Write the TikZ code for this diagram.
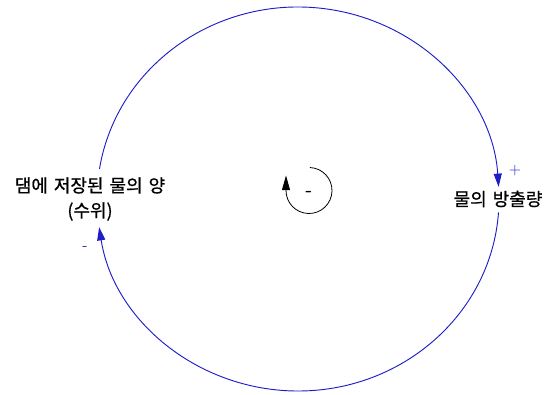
\documentclass[tikz,border=0pt]{standalone}
\usepackage{fontspec}
\newfontfamily\kofont[FakeBold=0.7]{Noto Sans CJK KR}
\newcommand\kowide{\spaceskip=0.33em\relax}
\usetikzlibrary{arrows.meta, calc}
\definecolor{loopcol}{RGB}{30, 30, 200}

\begin{document}
\begin{tikzpicture}[x=0.75pt, y=0.75pt,
      var/.style={align=center, font=\kofont\fontsize{13.5}{18.75}\selectfont\kowide, inner sep=1pt},
      link/.style={draw=loopcol, line width=0.7pt, -{Triangle[length=10pt, width=6pt]}},
      sign/.style={font=\sffamily\large, text=loopcol, inner sep=0pt},
      loopmark/.style={draw=black, line width=0.6pt, -{Triangle[length=11pt, width=6pt]}}]

      \useasboundingbox (0,0) rectangle (552,394);

      % Variables
      \node[var] (dam) at (90, 195) {댐에 저장된 물의 양\\(수위)};
      \node[var] (outflow) at (498, 195) {물의 방출량};

      % Points du cercle
      \coordinate (c) at (298, 195);
      \coordinate (damtop) at ($(c)+(171:201 and 192)$);
      \coordinate (outbot) at ($(c)+(-4:201 and 192)$);

      % Liens causaux
      \draw[link] (damtop) arc[start angle=171, end angle=3.6, x radius=201, y radius=192];
      \draw[link] (outbot) arc[start angle=-4, end angle=-171.6, x radius=201, y radius=192];

      \node[sign] (plus) at (515, 223) {+};
      \node[sign] (minus) at (85, 146) {-};

      % Boucle
      \coordinate (loopc) at (309, 203.5);
      \draw[loopmark] ($(loopc)+(88:23)$) arc[start angle=88, end angle=-180, radius=23] -- ++(0,15);
      \node[font=\sffamily\bfseries\Large, inner sep=0pt] (looplbl) at (309, 200) {-};
    \end{tikzpicture}
\end{document}
